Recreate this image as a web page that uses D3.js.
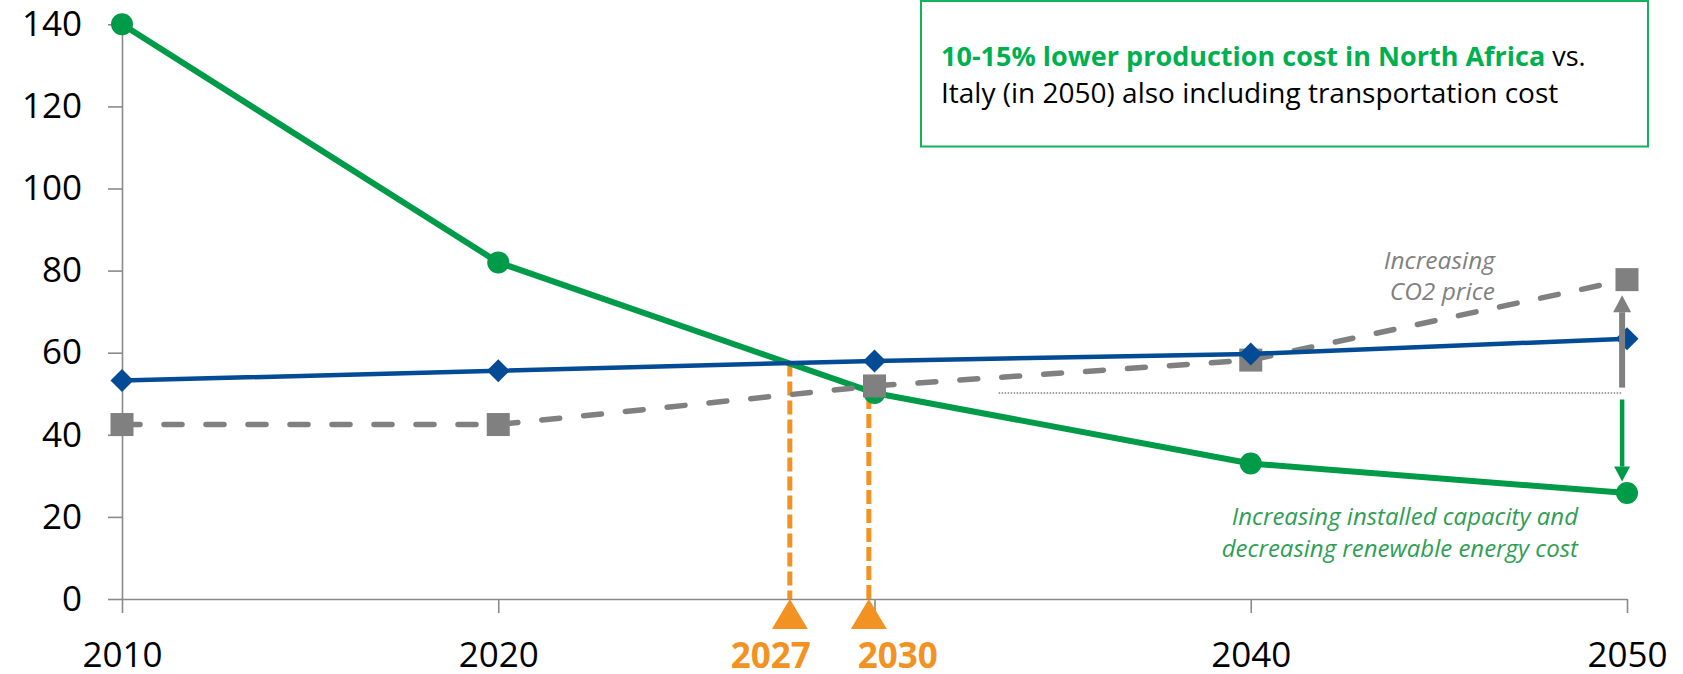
<!DOCTYPE html>
<html>
<head>
<meta charset="utf-8">
<script src="https://cdn.jsdelivr.net/npm/d3@7"></script>
<style>
  body { margin: 0; background: #fff; }
  text { font-family: "Open Sans", sans-serif; }
</style>
</head>
<body>
<div id="lineChart"></div>
<script>
// data
const years = [2010, 2020, 2030, 2040, 2050];
const greenValues = [140, 82, 50.2, 33, 25.8];
const blueValues = [53.2, 55.6, 58, 59.7, 63.4];
const grayValues = [42.5, 42.5, 51.9, 58.2, 77.8];

const yTicks = [0, 20, 40, 60, 80, 100, 120, 140];
const xTicks = [2010, 2020, 2030, 2040, 2050];
const xTickLabels = ["2010", "2020", "", "2040", "2050"];

// orange break-even markers
const crossYears = [2027.75, 2029.85];
const crossTops = [57.6, 49.7];
const crossLabels = ["2027", "2030"];

// reference level and arrows at 2050
const refLevel = 50.2;
const refStart = 2033.3;
const arrowYear = 2049.87;
const arrowFrom = [51.5, 48.6];
const arrowTo = [74, 28.6];

const boxLine1Bold = "10-15% lower production cost in North Africa";
const boxLine1Rest = " vs.";
const boxLine2 = "Italy (in 2050) also including transportation cost";
const co2Note = ["Increasing", "CO2 price"];
const greenNote = ["Increasing installed capacity and", "decreasing renewable energy cost"];

const width = 1683, height = 674;
const green = "#009b48", blue = "#034b95", gray = "#808080", orange = "#f29222";

const svg = d3
  .select("#lineChart")
  .append("svg")
  .attr("width", width)
  .attr("height", height);

const x = d3.scaleLinear().domain([2010, 2050]).range([122, 1627]);
const y = d3.scaleLinear().domain([0, 140]).range([599, 24.3]);

// axes
const yAxis = svg
  .append("g")
  .attr("transform", "translate(" + x(2010) + ",0)")
  .call(d3.axisLeft(y).tickValues(yTicks).tickSize(14).tickSizeOuter(0).tickPadding(26));
const xAxis = svg
  .append("g")
  .attr("transform", "translate(0," + y(0) + ")")
  .call(
    d3.axisBottom(x)
      .tickValues(xTicks)
      .tickSize(14)
      .tickSizeOuter(0)
      .tickPadding(29)
      .tickFormat(function (d, i) { return xTickLabels[i]; })
  );
[yAxis, xAxis].forEach(function (g) {
  g.selectAll("path, line").attr("stroke", "#8a8a8a").attr("stroke-width", 1.6);
  g.selectAll("text").attr("fill", "#000").style("font-size", "35px").style("font-family", "'Open Sans', sans-serif");
});

// dotted reference level
svg.append("line")
  .attr("x1", x(refStart)).attr("x2", x(arrowYear))
  .attr("y1", y(refLevel)).attr("y2", y(refLevel))
  .attr("stroke", gray).attr("stroke-width", 1.5)
  .attr("stroke-dasharray", "1.5,1.5");

// orange dashed break-even lines + triangles
crossYears.forEach(function (yr, i) {
  svg.append("line")
    .attr("x1", x(yr)).attr("x2", x(yr))
    .attr("y1", y(crossTops[i])).attr("y2", y(0))
    .attr("stroke", orange).attr("stroke-width", 5)
    .attr("stroke-dasharray", "14,5");
  svg.append("path")
    .attr("d", "M" + x(yr) + "," + y(0) + "l18,30l-36,0z")
    .attr("fill", orange);
  svg.append("text")
    .attr("x", x(yr) + (i === 0 ? -19 : 29))
    .attr("y", 668)
    .attr("text-anchor", "middle")
    .attr("fill", orange)
    .style("font-size", "35px")
    .style("font-weight", "bold")
    .text(crossLabels[i]);
});

const line = d3.line()
  .x(function (d, i) { return x(years[i]); })
  .y(function (d) { return y(d); });

// green series
svg.append("path")
  .datum(greenValues)
  .attr("d", line)
  .attr("fill", "none").attr("stroke", green).attr("stroke-width", 6)
  .attr("stroke-linejoin", "round");
svg.selectAll(".gdot")
  .data(greenValues)
  .enter()
  .append("circle")
  .attr("cx", function (d, i) { return x(years[i]); })
  .attr("cy", function (d) { return y(d); })
  .attr("r", 11)
  .attr("fill", green);

// gray dashed series
svg.append("path")
  .datum(grayValues)
  .attr("d", line)
  .attr("fill", "none").attr("stroke", gray).attr("stroke-width", 5.5)
  .attr("stroke-linecap", "round")
  .attr("stroke-dasharray", "18,24");
svg.selectAll(".gsq")
  .data(grayValues)
  .enter()
  .append("rect")
  .attr("x", function (d, i) { return x(years[i]) - 11.5; })
  .attr("y", function (d) { return y(d) - 11.5; })
  .attr("width", 23).attr("height", 23)
  .attr("fill", gray);

// blue series
svg.append("path")
  .datum(blueValues)
  .attr("d", line)
  .attr("fill", "none").attr("stroke", blue).attr("stroke-width", 4.5);
svg.selectAll(".bdia")
  .data(blueValues)
  .enter()
  .append("path")
  .attr("d", function (d, i) {
    const cx = x(years[i]), cy = y(d);
    return "M" + cx + "," + (cy - 11.5) + "L" + (cx + 11.5) + "," + cy +
      "L" + cx + "," + (cy + 11.5) + "L" + (cx - 11.5) + "," + cy + "Z";
  })
  .attr("fill", blue);

// arrows at 2050
const arrowColors = [gray, green];
const arrowShaft = [6, 4.5];
const arrowHead = [[18, 17], [16, 15]];
arrowFrom.forEach(function (v, i) {
  const ax = x(arrowYear), y0 = y(v), y1 = y(arrowTo[i]);
  const dir = y1 < y0 ? 1 : -1;
  const hw = arrowHead[i][0] / 2, hl = arrowHead[i][1];
  svg.append("line")
    .attr("x1", ax).attr("x2", ax)
    .attr("y1", y0).attr("y2", y1 + dir * hl)
    .attr("stroke", arrowColors[i]).attr("stroke-width", arrowShaft[i]);
  svg.append("path")
    .attr("d", "M" + ax + "," + y1 + "L" + (ax + hw) + "," + (y1 + dir * hl) +
      "L" + (ax - hw) + "," + (y1 + dir * hl) + "Z")
    .attr("fill", arrowColors[i]);
});

// notes
svg.selectAll(".co2note")
  .data(co2Note)
  .enter()
  .append("text")
  .attr("x", 1495)
  .attr("y", function (d, i) { return 269 + i * 31; })
  .attr("text-anchor", "end")
  .attr("fill", gray)
  .style("font-size", "24.5px")
  .style("font-style", "italic")
  .text(function (d) { return d; });

svg.selectAll(".greennote")
  .data(greenNote)
  .enter()
  .append("text")
  .attr("x", 1578)
  .attr("y", function (d, i) { return 525 + i * 32; })
  .attr("text-anchor", "end")
  .attr("fill", "#2f9e55")
  .style("font-size", "24px")
  .style("font-style", "italic")
  .text(function (d) { return d; });

// callout box
svg.append("rect")
  .attr("x", 921).attr("y", 1)
  .attr("width", 727).attr("height", 145.5)
  .attr("fill", "#fff")
  .attr("stroke", "#12b25a").attr("stroke-width", 2);
const t1 = svg.append("text")
  .attr("x", 941).attr("y", 66)
  .style("font-size", "27px");
t1.append("tspan").attr("fill", "#00b050").style("font-weight", "bold").text(boxLine1Bold);
t1.append("tspan").attr("fill", "#000").text(boxLine1Rest);
svg.append("text")
  .attr("x", 941).attr("y", 103)
  .attr("fill", "#000")
  .style("font-size", "28px")
  .text(boxLine2);
</script>
</body>
</html>
